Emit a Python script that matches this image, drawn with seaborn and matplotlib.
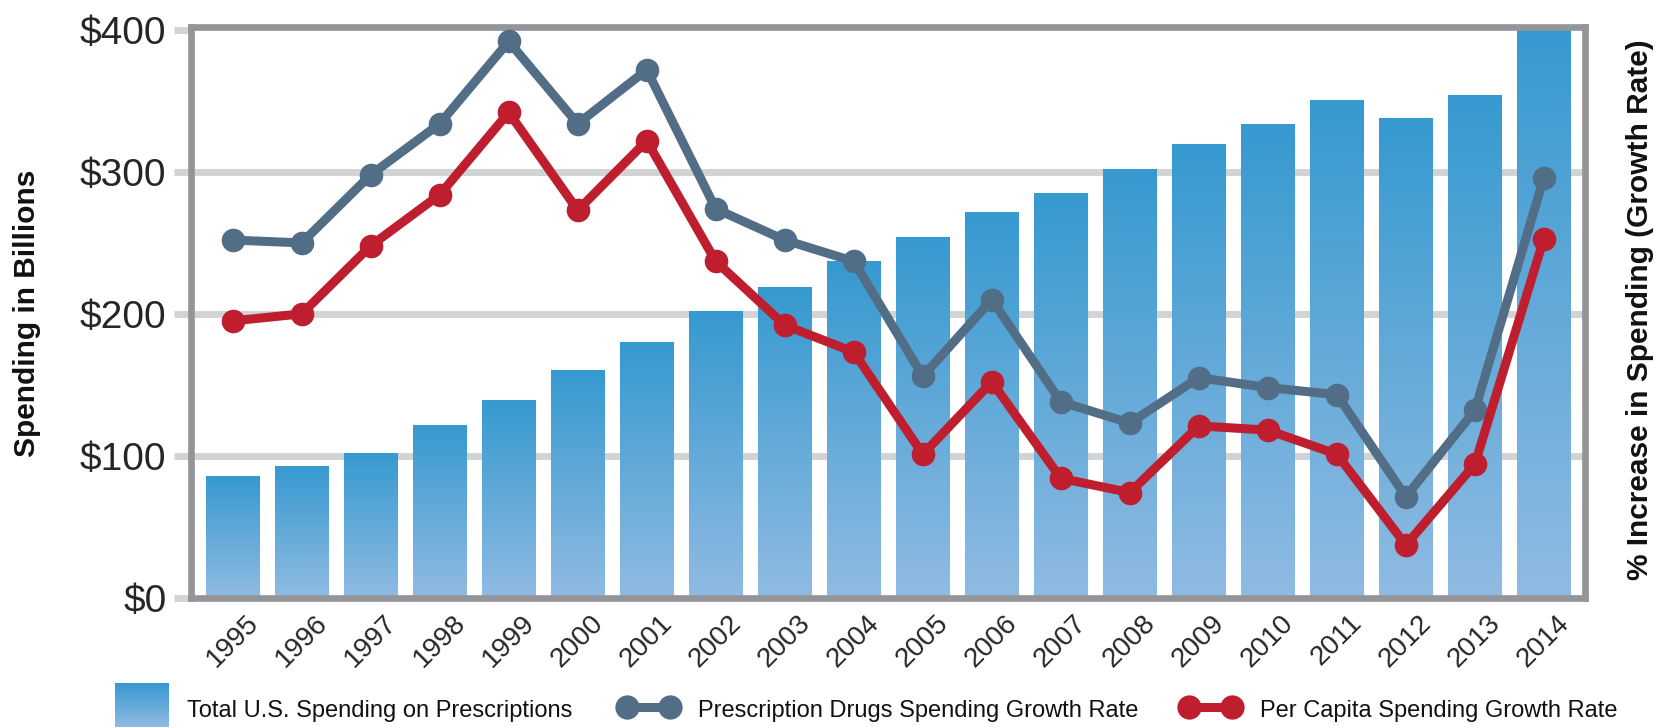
import numpy as np
import pandas as pd
import matplotlib
matplotlib.use("Agg")
import matplotlib.pyplot as plt
import seaborn as sns
from matplotlib.colors import LinearSegmentedColormap
from matplotlib.lines import Line2D

# ---- data -------------------------------------------------------------
years = [str(y) for y in range(1995, 2015)]
total_spending = [85.5, 92.5, 102, 121.5, 139, 160.5, 180, 202, 219, 237,
                  254.5, 272, 285, 302, 320, 334, 351, 338, 354, 402]
drug_growth = [12.6, 12.5, 14.9, 16.7, 19.6, 16.7, 18.6, 13.7, 12.6, 11.85,
               7.8, 10.5, 6.9, 6.15, 7.75, 7.4, 7.15, 3.55, 6.6, 14.8]
per_capita_growth = [9.75, 10.0, 12.4, 14.2, 17.1, 13.65, 16.1, 11.85, 9.6, 8.65,
                     5.05, 7.6, 4.2, 3.7, 6.05, 5.9, 5.05, 1.85, 4.7, 12.65]
ytick_values = [0, 100, 200, 300, 400]
ytick_labels = ["$0", "$100", "$200", "$300", "$400"]

legend_labels = ["Total U.S. Spending on Prescriptions",
                 "Prescription Drugs Spending Growth Rate",
                 "Per Capita Spending Growth Rate"]

# ---- style ------------------------------------------------------------
BAR_TOP = "#3699d0"
BAR_BOTTOM = "#90bbe2"
GRAY = "#526e86"
RED = "#be1e2d"
FRAME = "#939598"
GRID = "#d1d3d4"

sns.set_theme(style="white")
plt.rcParams["font.family"] = ["Liberation Sans", "DejaVu Sans"]
plt.rcParams["text.color"] = "#111111"

W, H = 1667, 728
fig = plt.figure(figsize=(W / 100, H / 100), dpi=100)
fig.patch.set_facecolor("white")


def fx(px):
    return px / W


def fy(py):
    return 1 - py / H


ax = fig.add_axes([fx(191), fy(597.5), fx(1585.3) - fx(191), fy(27.3) - fy(597.5)])

df = pd.DataFrame({"year": years, "spending": total_spending,
                   "pos": np.arange(len(years)),
                   "drug": drug_growth, "capita": per_capita_growth})

sns.barplot(data=df, x="year", y="spending", ax=ax, color=BAR_TOP,
            width=0.77, saturation=1, edgecolor="#9ccbea", linewidth=0.8)

# vertical gradient inside each bar
grad_cmap = LinearSegmentedColormap.from_list("bar_grad", [BAR_BOTTOM, BAR_TOP])
gradient = np.linspace(0, 1, 256).reshape(-1, 1)
for patch in ax.patches:
    x0, y0 = patch.get_x(), patch.get_y()
    w, h = patch.get_width(), patch.get_height()
    im = ax.imshow(gradient, extent=[x0, x0 + w, y0, y0 + h], origin="lower",
                   aspect="auto", cmap=grad_cmap, zorder=patch.get_zorder() + 0.05,
                   interpolation="bilinear")
    im.set_clip_path(patch)

ax.set_xlim(-0.604, 19.6)
ax.set_ylim(0, 402)
ax.set_yticks(ytick_values)
ax.set_yticklabels(ytick_labels, fontsize=28)
ax.set_xticks(df["pos"])
ax.set_xticklabels(years, rotation=45, ha="center", fontsize=20)
ax.set_xlabel("")
ax.set_ylabel("")

ax.set_axisbelow(True)
ax.yaxis.grid(True, color=GRID, linewidth=5)
ax.xaxis.grid(False)
ax.tick_params(axis="y", length=12.2, width=5, color=GRID, direction="out", pad=5.4)
ax.tick_params(axis="x", length=0, pad=9)
for i in (0, len(ytick_values) - 1):
    t = ax.yaxis.get_major_ticks()[i]
    t.tick1line.set_visible(False)
    t.gridline.set_visible(False)

for side in ("left", "right", "top", "bottom"):
    ax.spines[side].set_visible(True)
    ax.spines[side].set_color(FRAME)
    ax.spines[side].set_linewidth(4.8)
    ax.spines[side].set_zorder(5)

# growth-rate lines on a secondary axis
ax2 = ax.twinx()
ax2.set_ylim(0, 402 / 20)
sns.lineplot(data=df, x="pos", y="drug", ax=ax2, color=GRAY, linewidth=6.5,
             marker="o", markersize=17, markeredgewidth=0, zorder=3)
sns.lineplot(data=df, x="pos", y="capita", ax=ax2, color=RED, linewidth=6.5,
             marker="o", markersize=17, markeredgewidth=0, zorder=4)
ax2.set_xlim(-0.604, 19.6)
ax2.set_yticks([])
ax2.set_xlabel("")
ax2.set_ylabel("")
for side in ax2.spines:
    ax2.spines[side].set_visible(False)

# axis titles
fig.text(fx(27), fy(313), "Spending in Billions", rotation=90, ha="center",
         va="center", fontsize=21.5, fontweight="bold")
fig.text(fx(1640), fy(310), "% Increase in Spending (Growth Rate)", rotation=90,
         ha="center", va="center", fontsize=21.5, fontweight="bold")

# legend row
leg_ax = fig.add_axes([fx(115), fy(727), fx(168) - fx(115), fy(683) - fy(727)])
leg_ax.imshow(gradient, origin="lower", aspect="auto", cmap=grad_cmap,
              extent=[0, 1, 0, 1], interpolation="bilinear")
leg_ax.set_axis_off()
fig.text(fx(187), fy(717), legend_labels[0], ha="left", va="baseline", fontsize=17)

for (m0, m1, tx, col, lab) in [(626.5, 669.5, 698, GRAY, legend_labels[1]),
                               (1189, 1232, 1260, RED, legend_labels[2])]:
    fig.add_artist(Line2D([fx(m0), fx(m1)], [fy(707), fy(707)], color=col,
                          linewidth=6.5, marker="o", markersize=17.5,
                          markeredgewidth=0, transform=fig.transFigure))
    fig.text(fx(tx), fy(717), lab, ha="left", va="baseline", fontsize=17)

fig.savefig("out.png", dpi=100, facecolor="white")
